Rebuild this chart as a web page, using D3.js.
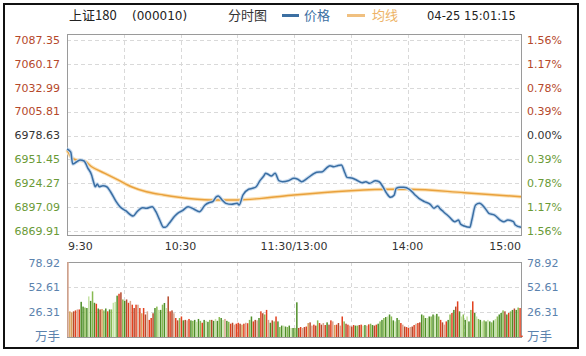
<!DOCTYPE html>
<html>
<head>
<meta charset="utf-8">
<script src="https://cdn.jsdelivr.net/npm/d3@7/dist/d3.min.js"></script>
<style>
  body { margin: 0; background: #fff; }
  svg { display: block; }
</style>
</head>
<body>
<div id="chart"></div>
<script>
// Chart data
const indexName = "上证180";
const indexCode = "(000010)";
const stamp = "04-25 15:01:15";
const prevClose = 6978.63;
const priceTicks = [7087.35, 7060.17, 7032.99, 7005.81, 6978.63, 6951.45, 6924.27, 6897.09, 6869.91];
const pctTicks = ["1.56%", "1.17%", "0.78%", "0.39%", "0.00%", "0.39%", "0.78%", "1.17%", "1.56%"];
const gridTimes = ["9:30", "10:00", "10:30", "11:00", "11:30", "13:30", "14:00", "14:30", "15:00"];
const timeLabels = [["9:30", "9:30"], ["10:30", "10:30"], ["11:30", "11:30/13:00"], ["14:00", "14:00"], ["15:00", "15:00"]];
const volumeTicks = [78.92, 52.61, 26.31];

const priceTimes = ["9:30", "9:32", "9:33", "9:35", "9:37", "9:39", "9:41", "9:43", "9:44", "9:45",
  "9:46", "9:47", "9:49", "9:51", "9:53", "9:56", "9:58", "10:01", "10:05", "10:07",
  "10:10", "10:12", "10:15", "10:17", "10:19", "10:21", "10:22", "10:24", "10:27", "10:29",
  "10:31", "10:34", "10:37", "10:40", "10:43", "10:45", "10:47", "10:49", "10:50", "10:52",
  "10:54", "10:57", "11:00", "11:01", "11:03", "11:06", "11:08", "11:10", "11:12", "11:14",
  "11:15", "11:16", "11:18", "11:20", "11:22", "11:24", "11:27", "11:30",
  "13:02", "13:04", "13:07", "13:10", "13:12", "13:15", "13:17", "13:19", "13:21", "13:23",
  "13:25", "13:27", "13:28", "13:31", "13:33", "13:36", "13:38", "13:40", "13:43", "13:45",
  "13:47", "13:49", "13:51", "13:53", "13:54", "13:56", "13:58", "14:01", "14:04", "14:06",
  "14:09", "14:12", "14:14", "14:16", "14:17", "14:19", "14:22", "14:25", "14:27", "14:28",
  "14:30", "14:33", "14:34", "14:36", "14:38", "14:41", "14:43", "14:46", "14:49", "14:51",
  "14:53", "14:56", "14:57", "15:00"];
const priceValues = [6963.3, 6959.8, 6946.2, 6948.5, 6950.7, 6949.6, 6941.6, 6933.7, 6926.0, 6920.3,
  6923.4, 6920.3, 6921.5, 6920.3, 6914.6, 6903.3, 6897.6, 6893.0, 6887.0, 6891.9,
  6896.4, 6895.8, 6897.6, 6891.9, 6882.4, 6874.1, 6874.1, 6878.7, 6887.0, 6890.8,
  6893.0, 6897.6, 6894.9, 6891.9, 6899.5, 6902.1, 6903.3, 6909.0, 6909.8, 6905.2,
  6901.4, 6900.3, 6901.4, 6899.5, 6910.9, 6917.4, 6918.5, 6920.3, 6927.2, 6932.5,
  6935.6, 6934.8, 6932.5, 6935.6, 6927.2, 6926.0, 6927.2, 6929.9,
  6928.8, 6926.0, 6929.9, 6934.5, 6936.8, 6937.4, 6941.3, 6944.3, 6943.1, 6944.3,
  6945.0, 6935.6, 6931.0, 6929.9, 6928.0, 6924.9, 6926.0, 6924.2, 6927.2, 6926.0,
  6920.3, 6912.8, 6908.3, 6910.9, 6918.5, 6919.7, 6919.7, 6917.4, 6910.9, 6907.1,
  6903.3, 6900.3, 6895.8, 6898.5, 6895.8, 6891.9, 6886.2, 6880.5, 6882.4, 6877.9,
  6875.6, 6874.1, 6882.4, 6899.5, 6901.4, 6895.8, 6890.1, 6888.1, 6882.4, 6880.5,
  6882.4, 6880.5, 6876.7, 6874.1];

const avgTimes = ["9:30", "9:32", "9:35", "9:39", "9:43", "9:50", "9:57", "10:04", "10:12", "10:21",
  "10:29", "10:46", "11:00", "11:13", "11:30", "13:30", "13:52", "14:01", "14:30", "15:00"];
const avgValues = [6962.1, 6954.5, 6950.7, 6949.9, 6943.1, 6935.6, 6928.0, 6920.3, 6914.6, 6910.9,
  6908.3, 6905.2, 6905.2, 6907.1, 6910.9, 6915.8, 6917.4, 6917.4, 6913.5, 6908.9];

// one bar per minute, 9:30 .. 15:00 (万手)
const volumes = [
  78.92, 27, 26, 27, 28, 29, 29, 37, 32, 31,
  30.5, 42.7, 38, 48, 36, 35, 30, 29, 29.5, 28,
  30, 27, 29, 29, 36, 37, 43.5, 45.5, 47, 39.5,
  38, 39.5, 36, 38, 34, 30.5, 34, 34, 30.5, 25,
  30.5, 23.7, 27, 18, 20, 25, 30.5, 32, 28.5, 28.5,
  34, 35.8, 30.5, 42.7, 27, 28, 25, 20, 17.5, 20,
  21.6, 17.5, 18, 17.5, 19, 17.5, 17, 18, 16, 19,
  17, 15, 18, 17, 16, 18, 18, 17, 19, 17,
  21, 20, 18, 19, 17, 16, 14, 15, 13, 14,
  15, 14, 13, 14, 15, 14.5, 18, 21.6, 16.4, 18,
  17.5, 20, 27, 25, 23.7, 28.5, 18, 15, 17.5, 16.4,
  21.6, 16.4, 10.5, 12, 12, 11, 10.5, 12, 9.5, 9.5,
  9.5, 36.5, 9.5, 10.5, 9.5, 10.5, 11, 14.7, 15.4, 12,
  13, 12, 17.5, 14.7, 13, 14.7, 12.6, 15.4, 13, 17.5,
  16.4, 12.6, 13, 14.7, 12, 21.6, 16.4, 14, 13, 12,
  11, 12.6, 12, 12, 12.6, 13, 12, 12.6, 12, 13.3,
  14, 12.6, 12, 13, 14, 16.4, 18, 20, 21, 21.6,
  23.7, 21.6, 17.5, 16.4, 20, 18, 14.7, 13, 11, 10.5,
  9.5, 10.5, 11, 12.6, 14, 14.7, 15.4, 23.7, 22.7, 20,
  20, 21.6, 21.6, 23.7, 22.7, 24.3, 21.6, 18, 15.4, 13,
  16.4, 18, 23.7, 25.3, 28.5, 32, 37.5, 27, 21.6, 23.7,
  18, 21.6, 16.4, 28.5, 37.5, 25.3, 21.6, 19, 18, 16.4,
  17.5, 16.4, 18, 16.4, 15.4, 17.5, 19, 21.6, 23.7, 25.3,
  28, 27, 23.7, 25.3, 27, 28.5, 30, 28.5, 31, 30.5,
  1.5
];
// bar shade per minute: R red, B brick, S salmon, T tan, G green, M mid green, L light green
const volumeShades = [
  "S", "TTBRSRG", "GMGLGMGRGBTMG", "RGMLLGRBMG", "BRSRBRSRTRBSRRB", "GMLGMGL", "B",
  "RBSRBMRGBSRG", "MGLGMRGLGMBGLGMGLSGM", "RBSRRBTRSR", "MGRBSGRBMRSGBMR", "GMGLGMGLGM",
  "G", "BRSBRTBSRBMRBSRGBRSTRBSRMBRSB", "RGMBRLGSRMGBRGM", "GMGLGMGLGM", "RSBRRSBRSRB",
  "GMGLGMGLGM", "RBSR", "GMRGBR", "GLMGLGM", "R", "GLMGLMGLGMGLMG", "GMBGRMGBGMR", "R"
].join("");

const shadeColors = {
  R: "#e2401e", B: "#b64a2c", S: "#d8a48c", T: "#d5a05a",
  G: "#4e8e28", M: "#88ba52", L: "#c6e3a6"
};

// Layout
const W = 586, H = 356;
const plot = { left: 67, right: 521, top: 34, bottom: 235 };
const vol = { top: 262, bottom: 337 };

function minuteIndex(t) {
  const [h, m] = t.split(":").map(Number);
  const mins = h * 60 + m;
  return h < 12 ? mins - (9 * 60 + 30) : 120 + mins - 13 * 60;
}

const svg = d3.select("#chart").append("svg")
  .attr("width", W).attr("height", H)
  .style("font-family", "'DejaVu Sans', sans-serif");

// outer frame
svg.append("rect")
  .attr("x", 4).attr("y", 4).attr("width", 574).attr("height", 344)
  .attr("fill", "#fff").attr("stroke", "#111").attr("stroke-width", 2);

const x = d3.scaleLinear().domain([0, 240]).range([plot.left, plot.right]);
const y = d3.scaleLinear().domain([6869.91, 7087.35]).range([231, 40]);
const yv = d3.scaleLinear().domain([0, 78.92]).range([vol.bottom, vol.top]);

const cjk = "'Noto Sans CJK SC', sans-serif";

// header
const head = svg.append("g").attr("font-size", 12).attr("fill", "#222");
head.append("text").attr("x", 69).attr("y", 20).style("font-family", cjk).attr("font-size", 13).text(indexName);
head.append("text").attr("x", 132).attr("y", 20).text(indexCode);
head.append("text").attr("x", 228).attr("y", 20).style("font-family", cjk).attr("font-size", 13).attr("fill", "#333").text("分时图");
head.append("line").attr("x1", 282).attr("x2", 299).attr("y1", 15.5).attr("y2", 15.5)
  .attr("stroke", "#3c6fa2").attr("stroke-width", 3);
head.append("text").attr("x", 304).attr("y", 20).style("font-family", cjk).attr("font-size", 13).attr("fill", "#3c6fa2").text("价格");
head.append("line").attr("x1", 347).attr("x2", 365).attr("y1", 15.5).attr("y2", 15.5)
  .attr("stroke", "#f0c080").attr("stroke-width", 3);
head.append("text").attr("x", 372).attr("y", 20).style("font-family", cjk).attr("font-size", 13).attr("fill", "#edb366").text("均线");
head.append("text").attr("x", 427).attr("y", 20).attr("font-size", 11.5).text(stamp);

// grid
function drawGrid(top, bottom, ys) {
  const g = svg.append("g").attr("stroke", "#d9d9d9").attr("stroke-dasharray", "4,3").attr("stroke-width", 1);
  gridTimes.slice(1, -1).forEach(t => {
    const gx = Math.round(x(minuteIndex(t))) + 0.5;
    g.append("line").attr("x1", gx).attr("x2", gx).attr("y1", top).attr("y2", bottom);
  });
  ys.forEach(v => {
    g.append("line").attr("x1", plot.left).attr("x2", plot.right).attr("y1", v).attr("y2", v);
  });
}
drawGrid(plot.top, plot.bottom, priceTicks.map(v => Math.round(y(v)) + 0.5));
drawGrid(vol.top, vol.bottom, volumeTicks.slice(1).map(v => Math.round(yv(v)) + 0.5));

// frames
[[plot.top, plot.bottom], [vol.top, vol.bottom]].forEach(([t, b]) => {
  svg.append("rect")
    .attr("x", plot.left + 0.5).attr("y", t + 0.5)
    .attr("width", plot.right - plot.left).attr("height", b - t)
    .attr("fill", "none").attr("stroke", "#9a9a9a");
});

// price axis labels
function tickColor(v) {
  if (Math.abs(v - prevClose) < 0.01) return "#333";
  return v > prevClose ? "#b5482a" : "#6a9a36";
}
svg.append("g").selectAll("text").data(priceTicks).join("text")
  .attr("x", 60).attr("y", d => y(d)).attr("dy", "0.35em")
  .attr("text-anchor", "end").attr("font-size", 11)
  .attr("fill", tickColor).text(d => d.toFixed(2));
svg.append("g").selectAll("text").data(priceTicks).join("text")
  .attr("x", 527).attr("y", d => y(d)).attr("dy", "0.35em")
  .attr("font-size", 11)
  .attr("fill", tickColor).text((d, i) => pctTicks[i]);

// time labels
svg.append("g").selectAll("text").data(timeLabels).join("text")
  .attr("x", (d, i) => i === 0 ? plot.left + 1 : x(minuteIndex(d[0])))
  .attr("y", 250)
  .attr("text-anchor", (d, i) => i === 0 ? "start" : i === timeLabels.length - 1 ? "end" : "middle")
  .attr("font-size", 11).attr("fill", "#333")
  .text(d => d[1]);

// volume axis labels
["left", "right"].forEach(side => {
  const g = svg.append("g").attr("font-size", 11).attr("fill", "#5b82ad");
  const lx = side === "left" ? 60 : 527;
  g.selectAll("text").data(volumeTicks).join("text")
    .attr("x", lx).attr("y", d => yv(d) + (d === volumeTicks[0] ? 1.5 : 0)).attr("dy", "0.35em")
    .attr("text-anchor", side === "left" ? "end" : "start")
    .text(d => d.toFixed(2));
  g.append("text").attr("x", lx).attr("y", vol.bottom).attr("dy", "0.3em")
    .attr("text-anchor", side === "left" ? "end" : "start")
    .style("font-family", cjk).attr("font-size", 12.5).text("万手");
});

// volume bars
svg.append("g").selectAll("rect").data(volumes).join("rect")
  .attr("x", (d, i) => x(i) + 0.2)
  .attr("y", d => yv(d))
  .attr("width", 1.5)
  .attr("height", d => vol.bottom - yv(d))
  .attr("fill", (d, i) => shadeColors[volumeShades[i]] || "#4e8e28");

// lines
const line = d3.line()
  .x(d => x(minuteIndex(d[0])))
  .y(d => y(d[1]))
  .curve(d3.curveMonotoneX);
const priceData = priceTimes.map((t, i) => [t, priceValues[i]]);
const avgData = avgTimes.map((t, i) => [t, avgValues[i]]);

svg.append("path").datum(avgData).attr("d", line)
  .attr("fill", "none").attr("stroke", "#fbe0b4").attr("stroke-width", 3.5);
svg.append("path").datum(avgData).attr("d", line)
  .attr("fill", "none").attr("stroke", "#e9a13c").attr("stroke-width", 1.4);
svg.append("path").datum(priceData).attr("d", line)
  .attr("fill", "none").attr("stroke", "#c9dbee").attr("stroke-width", 3.5);
svg.append("path").datum(priceData).attr("d", line)
  .attr("fill", "none").attr("stroke", "#3a6ea3").attr("stroke-width", 1.5);
</script>
</body>
</html>
